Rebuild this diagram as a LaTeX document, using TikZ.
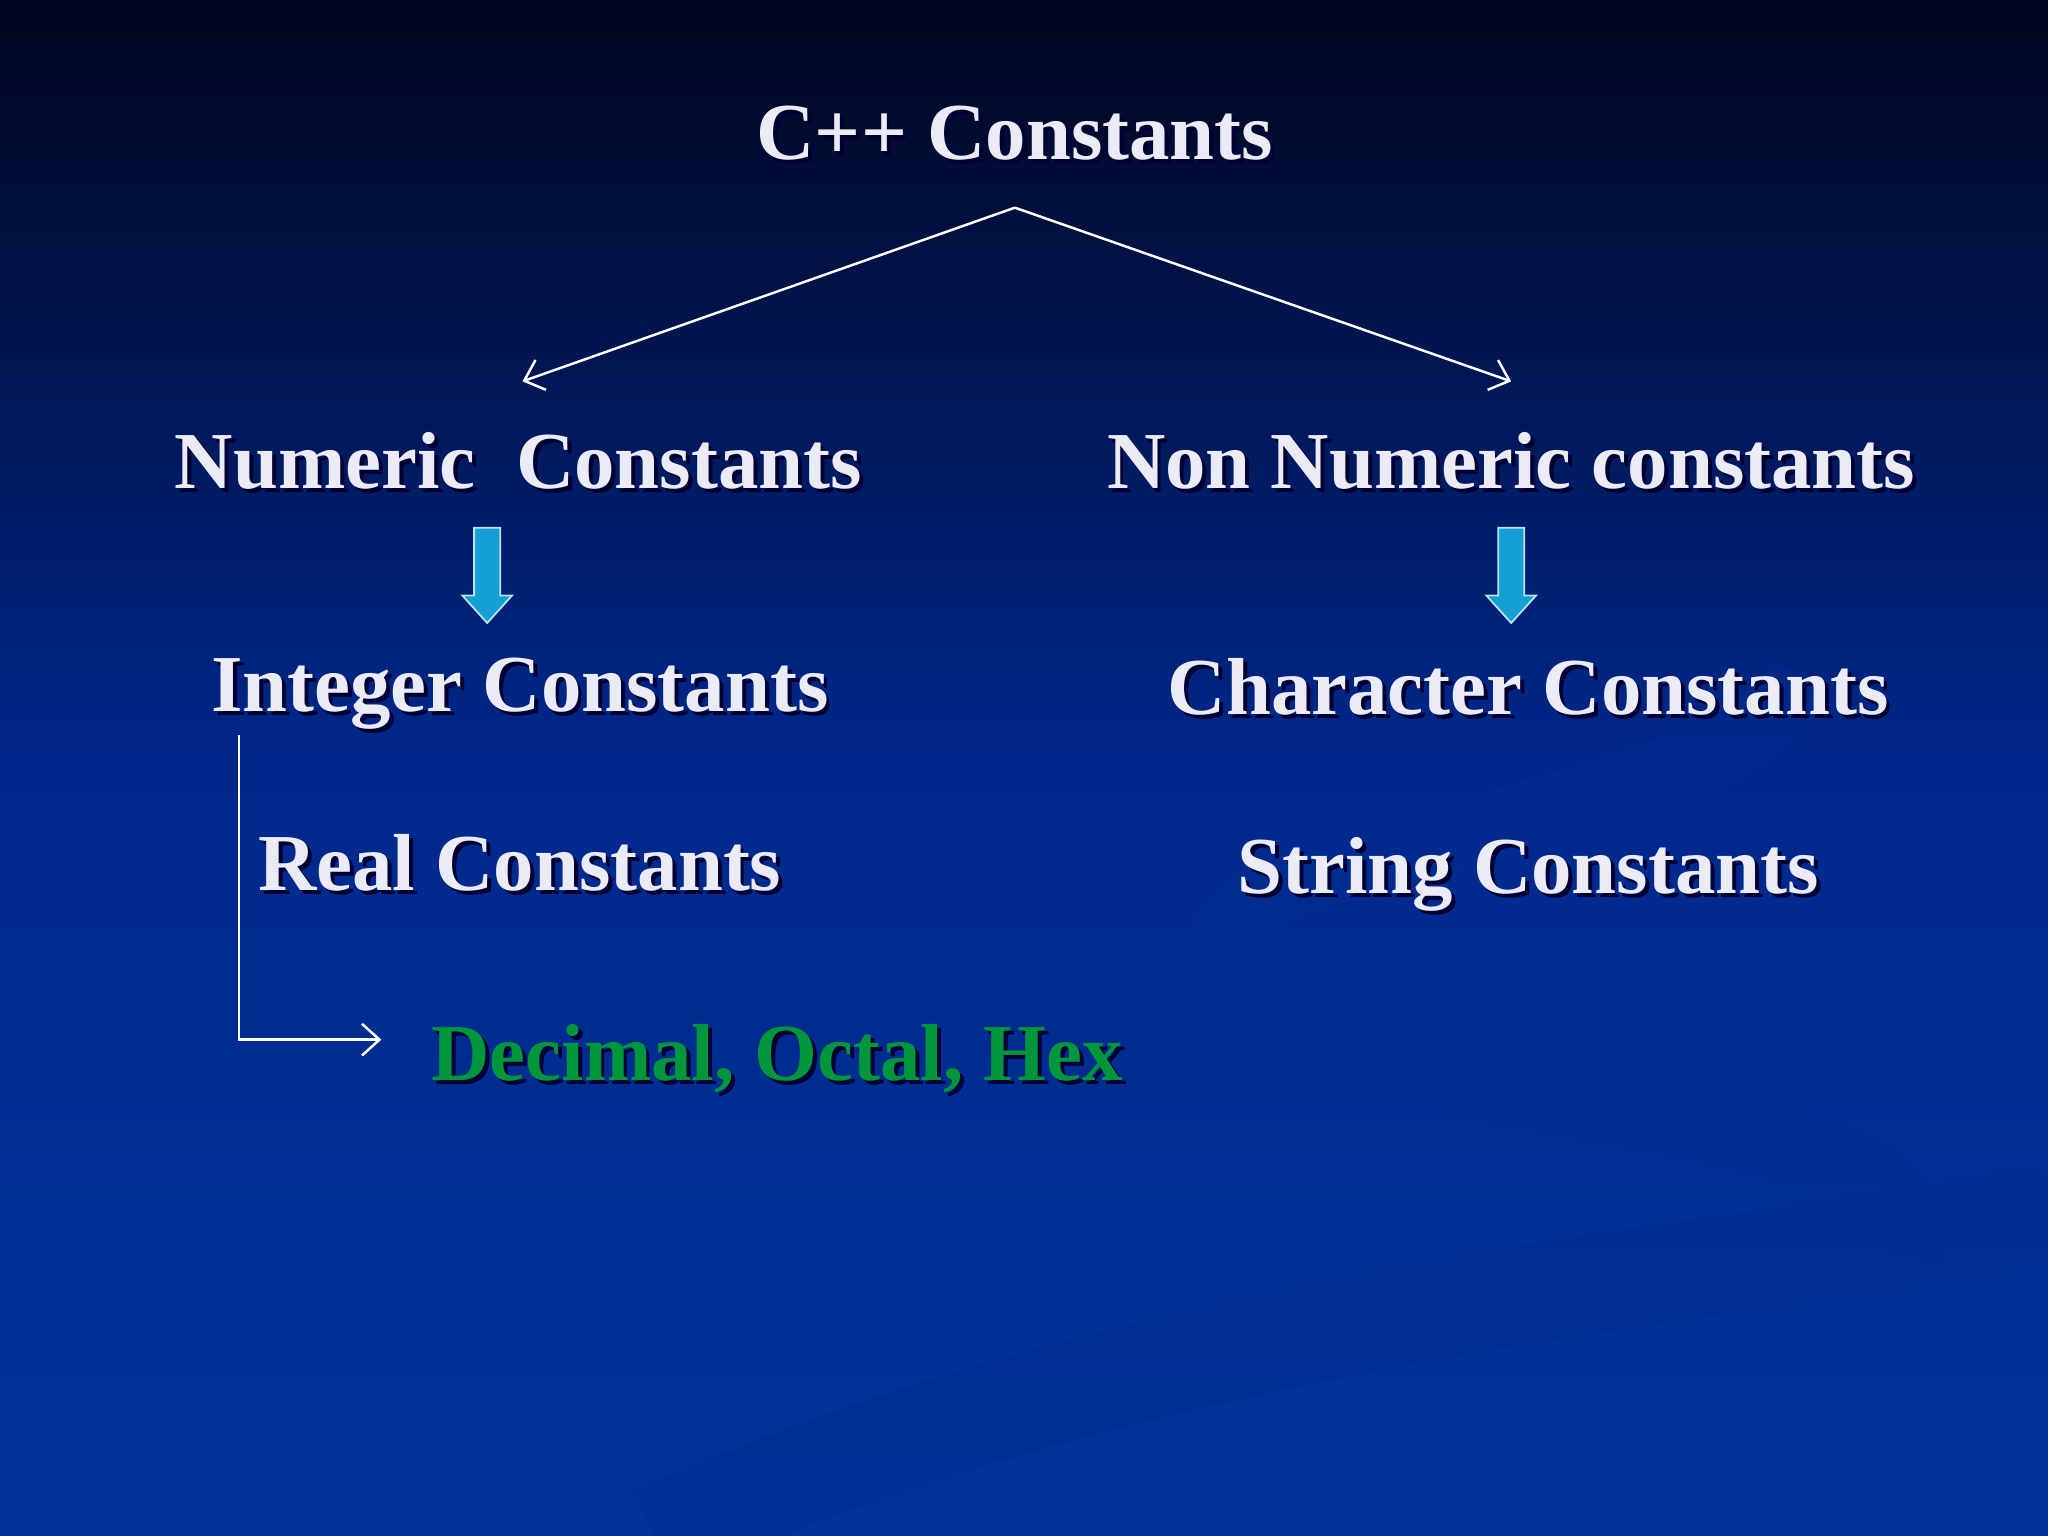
\documentclass[tikz,border=0pt]{standalone}
\usepackage{fontspec}
\setmainfont{Liberation Serif}
\usetikzlibrary{arrows.meta,calc}
\definecolor{txt}{RGB}{235,235,245}
\definecolor{grn}{RGB}{0,150,60}
\definecolor{arr}{RGB}{20,160,210}
\newcommand{\shnode}[4]{%
  \node[lbl,text=black!80!blue] at ($(#2)+(3,3)$) {#3};
  \node[lbl,text=#4] (#1) at (#2) {#3};}
\newcommand{\blockarrow}[2]{%
  \draw[draw=white!70!arr,fill=arr,line width=0.5pt] ($(#1)+(-10,0)$) -- ($(#1)+(10,0)$) -- ($(#1)+(10,52)$) -- ($(#1)+(19,52)$) -- ($(#1)+(0,73)$) -- ($(#1)+(-19,52)$) -- ($(#1)+(-10,52)$) -- cycle;
  \coordinate (#2) at (#1);}
\begin{document}
\begin{tikzpicture}[x=0.013061cm,y=-0.013061cm,
  lbl/.style={font=\fontsize{23}{28}\selectfont\bfseries,inner sep=0pt,anchor=base},
  conn/.style={draw=white,line width=0.7pt,-{Straight Barb[length=5pt,width=9pt]}}]
\shade[top color={rgb,255:red,0;green,5;blue,30},bottom color={rgb,255:red,0;green,52;blue,155},middle color={rgb,255:red,0;green,40;blue,140}] (0,0) rectangle (1568,1176);
\useasboundingbox (0,0) rectangle (1568,1176);
\draw[line width=28pt,color={rgb,255:red,0;green,45;blue,145},opacity=0.5] (500,1176) .. controls (900,1000) and (1300,980) .. (1568,930);
\draw[line width=20pt,color={rgb,255:red,0;green,45;blue,145},opacity=0.4] (1380,520) .. controls (1300,650) and (850,640) .. (950,760) .. controls (1050,860) and (1500,840) .. (1460,960);
\shnode{top}{777,122}{C++ Constants}{txt}
\shnode{num}{397,374}{Numeric\ \ Constants}{txt}
\shnode{non}{1157,374}{Non Numeric constants}{txt}
\shnode{int}{398,545}{Integer Constants}{txt}
\shnode{chr}{1170,547}{Character Constants}{txt}
\shnode{real}{398,682}{Real Constants}{txt}
\shnode{str}{1170,684}{String Constants}{txt}
\shnode{dec}{595,827}{Decimal, Octal, Hex}{grn}
\coordinate (apex) at (777,159);
\coordinate (lt) at (400,292);
\coordinate (rt) at (1157,292);
\draw[conn] (apex) -- (lt);
\draw[conn] (apex) -- (rt);
\blockarrow{373,404}{a1}
\blockarrow{1157,404}{a2}
\coordinate (v1) at (183,563);
\coordinate (v2) at (183,796);
\coordinate (v3) at (292,796);
\draw[conn] (v1) -- (v2) -- (v3);
\end{tikzpicture}
\end{document}
